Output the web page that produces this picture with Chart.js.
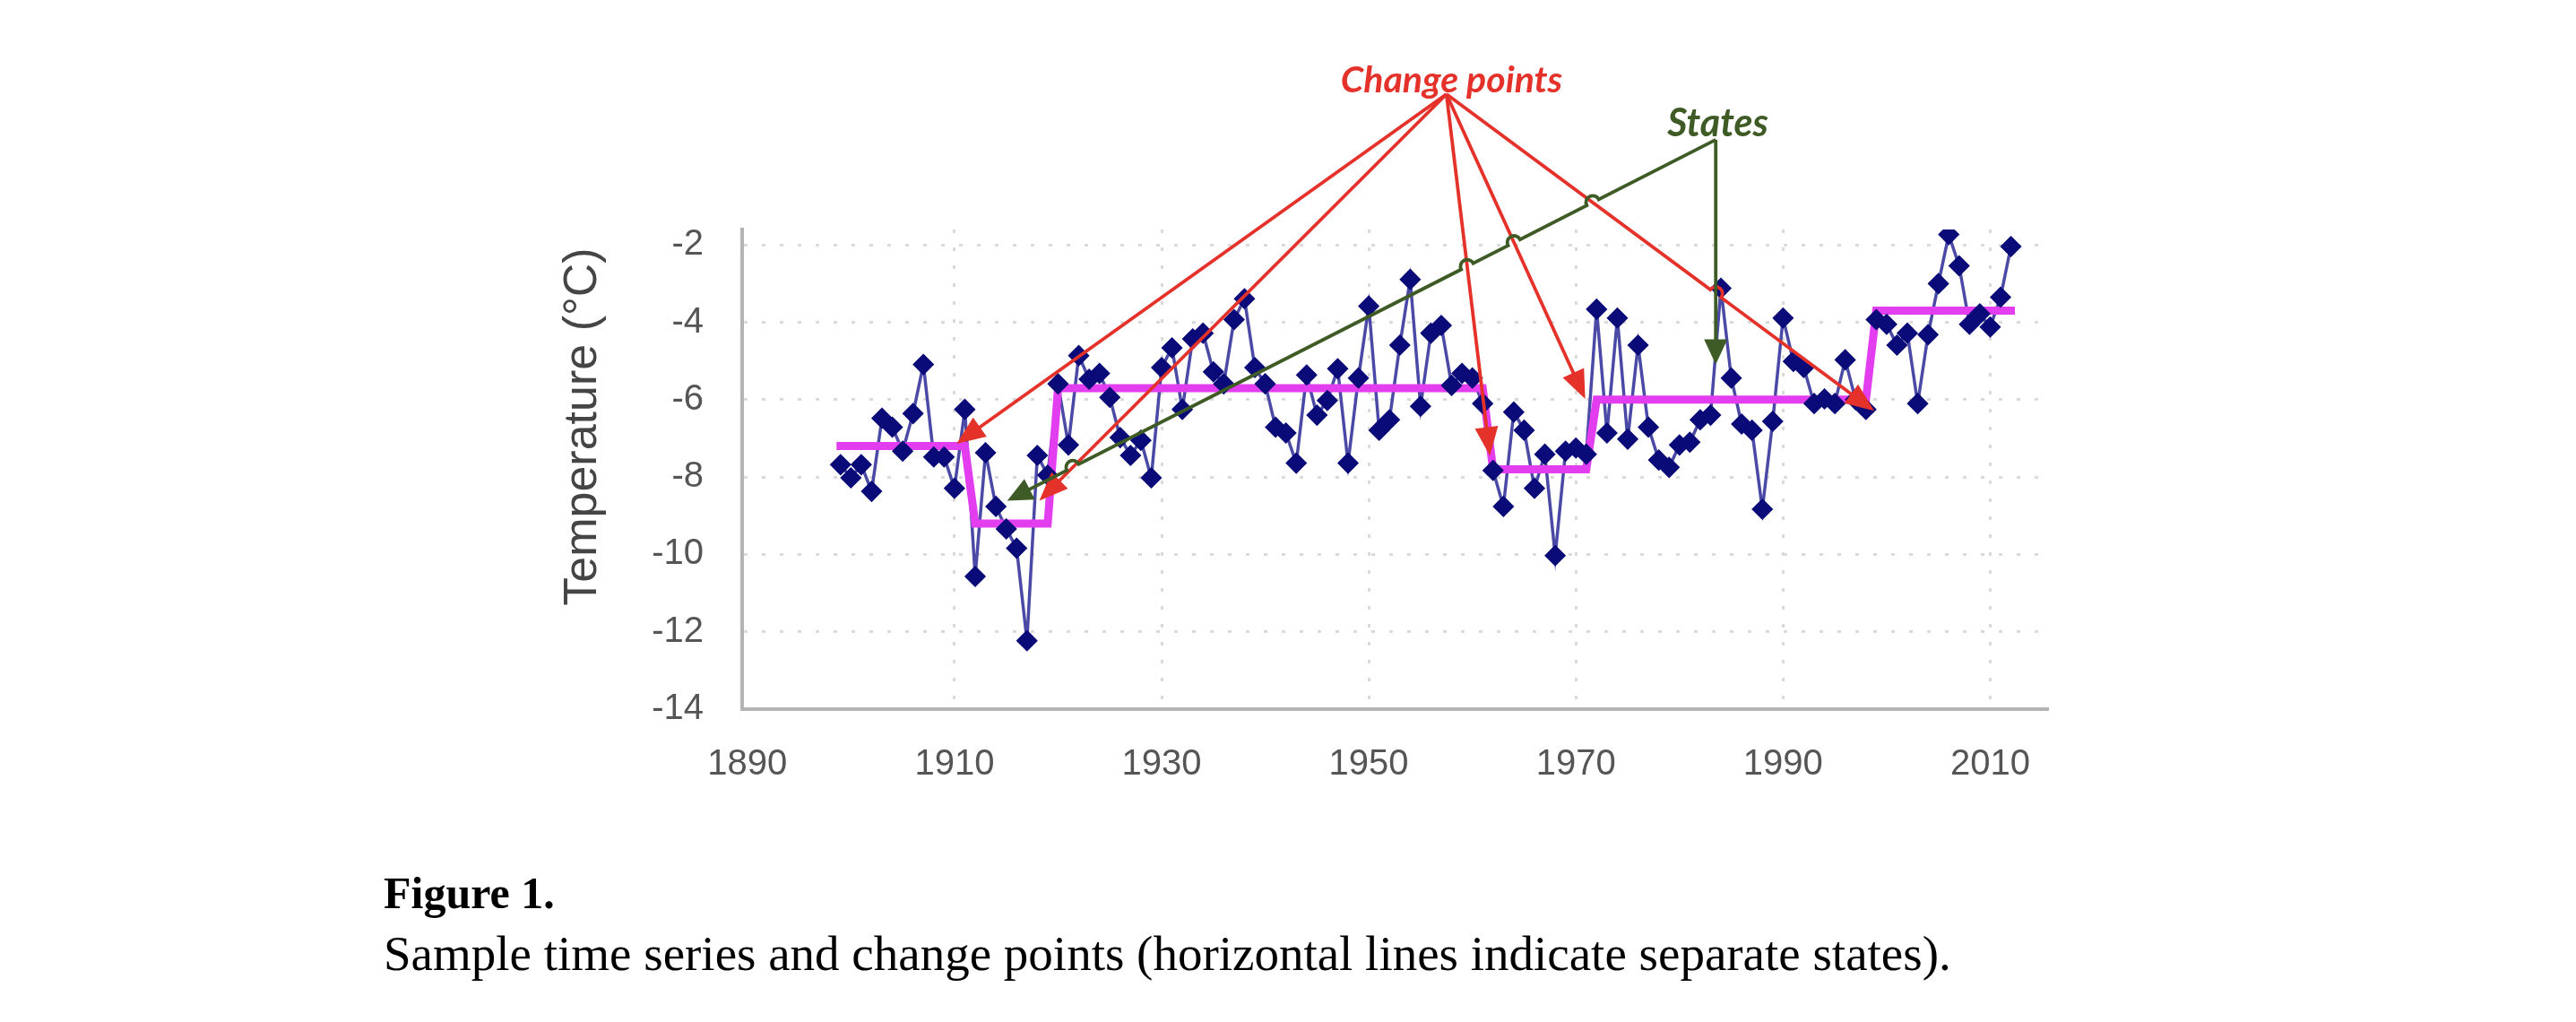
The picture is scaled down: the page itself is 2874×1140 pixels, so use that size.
<!DOCTYPE html>
<html>
<head>
<meta charset="utf-8">
<script src="https://cdn.jsdelivr.net/npm/chart.js@4.4.1/dist/chart.umd.min.js"></script>
<style>
html,body{margin:0;padding:0;background:#fff;}
#wrap{position:relative;width:2874px;height:1140px;overflow:hidden;background:#fff;}
#c{position:absolute;left:0;top:0;}
.cap{position:absolute;left:428px;font-family:'Liberation Serif','Times New Roman',serif;color:#000;line-height:1;white-space:nowrap;}
#fig{top:971px;font-size:50px;font-weight:bold;}
#desc{top:1036px;font-size:55px;}
</style>
</head>
<body>
<div id="wrap">
<canvas id="c" width="2874" height="1140"></canvas>
<div class="cap" id="fig">Figure 1.</div>
<div class="cap" id="desc">Sample time series and change points (horizontal lines indicate separate states).</div>
</div>
<script>
// ---- data ----
const years = [1899,1900,1901,1902,1903,1904,1905,1906,1907,1908,1909,
1910,1911,1912,1913,1914,1915,1916,1917,1918,1919,
1920,1921,1922,1923,1924,1925,1926,1927,1928,1929,
1930,1931,1932,1933,1934,1935,1936,1937,1938,1939,
1940,1941,1942,1943,1944,1945,1946,1947,1948,1949,
1950,1951,1952,1953,1954,1955,1956,1957,1958,1959,
1960,1961,1962,1963,1964,1965,1966,1967,1968,1969,
1970,1971,1972,1973,1974,1975,1976,1977,1978,1979,
1980,1981,1982,1983,1984,1985,1986,1987,1988,1989,
1990,1991,1992,1993,1994,1995,1996,1997,1998,1999,
2000,2001,2002,2003,2004,2005,2006,2007,2008,2009,
2010,2011,2012];
const temps = [-7.68,-8.02,-7.68,-8.37,-6.48,-6.71,-7.33,-6.36,-5.09,-7.48,-7.48,
-8.29,-6.25,-10.57,-7.37,-8.76,-9.34,-9.84,-12.23,-7.44,-7.95,
-5.59,-7.17,-4.86,-5.47,-5.32,-5.94,-6.98,-7.44,-7.05,-8.02,
-5.17,-4.66,-6.25,-4.43,-4.28,-5.28,-5.59,-3.93,-3.39,-5.17,
-5.59,-6.71,-6.86,-7.64,-5.36,-6.40,-6.02,-5.20,-7.64,-5.44,
-3.58,-6.79,-6.52,-4.59,-2.89,-6.17,-4.28,-4.08,-5.63,-5.32,
-5.44,-6.10,-7.83,-8.76,-6.32,-6.79,-8.29,-7.41,-10.03,-7.33,
-7.25,-7.41,-3.66,-6.86,-3.89,-7.02,-4.59,-6.71,-7.56,-7.75,
-7.17,-7.10,-6.52,-6.40,-3.12,-5.44,-6.63,-6.79,-8.83,-6.56,
-3.89,-5.01,-5.17,-6.10,-5.98,-6.10,-4.97,-6.00,-6.25,-3.93,
-4.05,-4.59,-4.28,-6.10,-4.32,-3.00,-1.73,-2.54,-4.05,-3.78,
-4.12,-3.35,-2.04];
const stateStartYears = [1899, 1912, 1920, 1962, 1972, 1999];
const stateEndYears   = [1911, 1919, 1961, 1971, 1998, 2012];
const stateMeans      = [-7.2, -9.2, -5.7, -7.8, -6.0, -3.7];
const xTickYears = [1890, 1910, 1930, 1950, 1970, 1990, 2010];
const yTickValues = [-14, -12, -10, -8, -6, -4, -2];
// annotation targets (data units)
const changePointTipYears = [1910.2, 1918.2, 1961.7, 1970.9, 1998.8];
const changePointTipTemps = [-7.14, -8.61, -7.45, -5.98, -6.29];
const stateTipYears = [1983.5, 1915.1];
const stateTipTemps = [-5.09, -8.61];

// ---- annotation anchors / styles ----
const changeOrigin = {year: 1957.5, temp: 1.9};
const changeLabel = {year: 1958.0, temp: 1.95, text: 'Change points'};
const stateOrigin = {year: 1983.5, temp: 0.72};
const stateLabel = {year: 1983.7, temp: 0.82, text: 'States'};
const RED = '#E4322B', GREEN = '#3E5A25';

const seriesPts = years.map((yr, i) => ({x: yr, y: temps[i]}));
const statePts = [];
stateStartYears.forEach((s, i) => {
  statePts.push({x: s, y: stateMeans[i]});
  statePts.push({x: stateEndYears[i], y: stateMeans[i]});
});

function crossT(a, b, c, d) {
  const rx = b.x - a.x, ry = b.y - a.y, sx = d.x - c.x, sy = d.y - c.y;
  const den = rx * sy - ry * sx;
  if (Math.abs(den) < 1e-9) return null;
  const t = ((c.x - a.x) * sy - (c.y - a.y) * sx) / den;
  const u = ((c.x - a.x) * ry - (c.y - a.y) * rx) / den;
  return (t > 0.02 && t < 0.95 && u > 0 && u < 1) ? t : null;
}
function hops(a, b, segs) {
  const out = [];
  segs.forEach(([c, d]) => { const t = crossT(a, b, c, d); if (t !== null) out.push(t); });
  return out.sort((p, q) => p - q);
}
function drawArrow(ctx, a, b, color, ts, L, W) {
  const dx = b.x - a.x, dy = b.y - a.y, len = Math.hypot(dx, dy);
  const ux = dx / len, uy = dy / len, th = Math.atan2(dy, dx);
  const r = 7.5, acw = !(Math.cos(th) > 0);
  ctx.save();
  ctx.strokeStyle = color; ctx.fillStyle = color; ctx.lineWidth = 3.8;
  ctx.beginPath();
  ctx.moveTo(a.x, a.y);
  ts.forEach(t => {
    const s = t * len;
    ctx.lineTo(a.x + ux * (s - r), a.y + uy * (s - r));
    ctx.arc(a.x + ux * s, a.y + uy * s, r, th + Math.PI, th, acw);
  });
  const e = len - L * 0.85;
  ctx.lineTo(a.x + ux * e, a.y + uy * e);
  ctx.stroke();
  const bx = b.x - ux * L, by = b.y - uy * L;
  ctx.beginPath();
  ctx.moveTo(b.x, b.y);
  ctx.lineTo(bx - uy * W, by + ux * W);
  ctx.lineTo(bx + uy * W, by - ux * W);
  ctx.closePath();
  ctx.fill();
  ctx.restore();
}

const annotPlugin = {
  id: 'annot',
  afterDraw(chart) {
    const {ctx, chartArea, scales: {x, y}} = chart;
    const P = (yr, t) => ({x: x.getPixelForValue(yr), y: y.getPixelForValue(t)});
    // y axis title
    ctx.save();
    ctx.translate(chartArea.left - 177, y.getPixelForValue(-6.7));
    ctx.rotate(-Math.PI / 2);
    ctx.font = '52px "Liberation Sans", Arial, sans-serif';
    ctx.fillStyle = '#454545';
    ctx.textAlign = 'center';
    ctx.textBaseline = 'middle';
    ctx.fillText('Temperature (\u00B0C)', 0, 0);
    ctx.restore();

    const rO = P(changeOrigin.year, changeOrigin.temp);
    const gO = P(stateOrigin.year, stateOrigin.temp);
    const redSegs = changePointTipYears.map((yr, i) => [rO, P(yr, changePointTipTemps[i])]);
    const greenSegs = stateTipYears.map((yr, i) => [gO, P(yr, stateTipTemps[i])]);
    redSegs.forEach(([a, b]) => drawArrow(ctx, a, b, RED, hops(a, b, [greenSegs[0]]), 32, 13));
    greenSegs.forEach(([a, b], i) => drawArrow(ctx, a, b, GREEN, i === 0 ? [] : hops(a, b, redSegs), 28, 13));

    ctx.save();
    ctx.font = 'italic bold 41px Lato, "Open Sans", sans-serif';
    ctx.textAlign = 'center';
    ctx.textBaseline = 'alphabetic';
    ctx.fillStyle = RED;
    const cl = P(changeLabel.year, changeLabel.temp);
    ctx.fillText(changeLabel.text, cl.x, cl.y);
    ctx.font = 'italic bold 43px Lato, "Open Sans", sans-serif';
    ctx.fillStyle = GREEN;
    const sl = P(stateLabel.year, stateLabel.temp);
    ctx.fillText(stateLabel.text, sl.x, sl.y);
    ctx.restore();
  }
};

const tickFont = {family: '"Liberation Sans", Arial, sans-serif', size: 40};
const gridDash = [4, 16];

new Chart(document.getElementById('c'), {
  type: 'line',
  data: {
    datasets: [
      {
        label: 'points',
        data: seriesPts,
        showLine: false,
        pointStyle: 'rectRot',
        pointRadius: 11,
        pointBackgroundColor: '#0A0A78',
        pointBorderColor: '#0A0A78',
        pointBorderWidth: 1.5
      },
      {
        label: 'states',
        data: statePts,
        borderColor: '#E33DF0',
        borderWidth: 9,
        borderCapStyle: 'square',
        borderJoinStyle: 'miter',
        pointRadius: 0,
        tension: 0,
        fill: false
      },
      {
        label: 'series',
        data: seriesPts,
        borderColor: '#4A4AA6',
        borderWidth: 3.5,
        pointRadius: 0,
        tension: 0,
        fill: false
      }
    ]
  },
  options: {
    responsive: false,
    animation: false,
    devicePixelRatio: 1,
    layout: {padding: {left: 628, right: 590, top: 256, bottom: 229}},
    plugins: {legend: {display: false}, tooltip: {enabled: false}},
    scales: {
      x: {
        type: 'linear',
        min: 1889.5,
        max: 2015.5,
        afterBuildTicks: s => { s.ticks = xTickYears.map(v => ({value: v})); },
        afterFit: s => { s.height = 120; },
        ticks: {font: tickFont, color: '#555', padding: 38, callback: v => String(v), maxRotation: 0, autoSkip: false},
        grid: {
          drawTicks: false,
          lineWidth: 3,
          color: c => (c.tick && c.tick.value === xTickYears[0]) ? 'rgba(0,0,0,0)' : '#DADADA'
        },
        border: {display: true, color: '#B4B4B4', width: 4, dash: gridDash}
      },
      y: {
        type: 'linear',
        min: -14,
        max: -1.6,
        afterBuildTicks: s => { s.ticks = yTickValues.map(v => ({value: v})); },
        afterFit: s => { s.width = 200; },
        ticks: {font: tickFont, color: '#555', padding: 43, callback: v => String(v), autoSkip: false},
        grid: {
          drawTicks: false,
          lineWidth: 3,
          color: c => (c.tick && c.tick.value === yTickValues[0]) ? 'rgba(0,0,0,0)' : '#DADADA'
        },
        border: {display: true, color: '#B4B4B4', width: 4, dash: gridDash}
      }
    }
  },
  plugins: [annotPlugin]
});
</script>
</body>
</html>
